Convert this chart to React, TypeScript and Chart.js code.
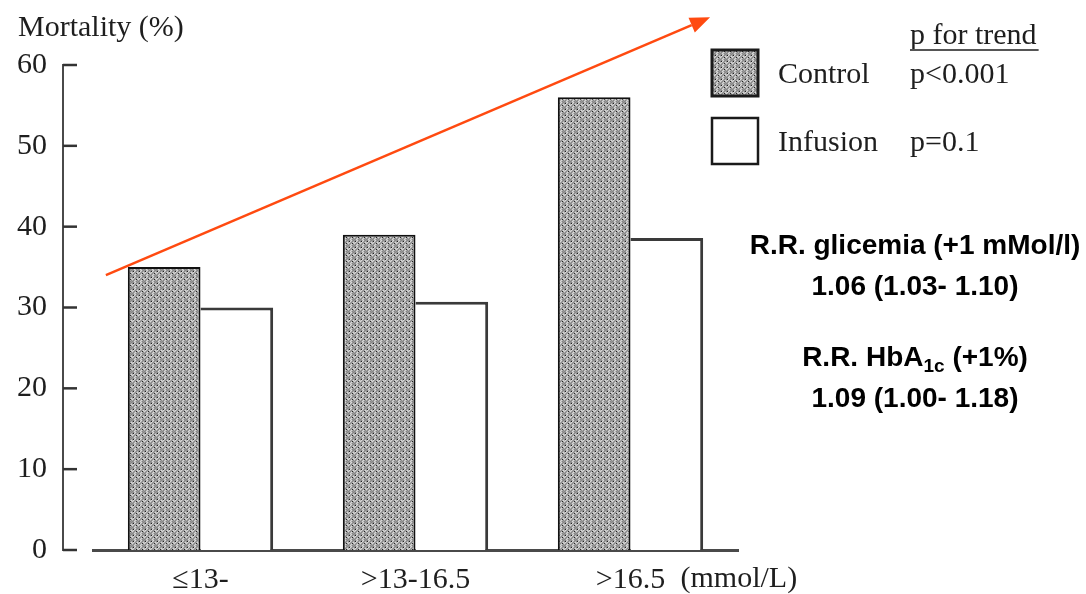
import React, { useEffect, useRef } from "react";
import { Chart, registerables } from "chart.js";

Chart.register(...registerables);

// Glucose strata on admission and mortality by treatment arm
const categories = ["≤13-", ">13-16.5", ">16.5"];
const controlValues = [35, 39, 56];
const infusionValues = [30, 30.7, 38.6];
const yTickValues = [0, 10, 20, 30, 40, 50, 60];
const seriesNames = ["Control", "Infusion"];
const trendValues = ["p<0.001", "p=0.1"];
const trendHeader = "p for trend";
const yTitle = "Mortality (%)";
const xUnit = "(mmol/L)";
const rrGlycemia = ["R.R. glicemia (+1 mMol/l)", "1.06 (1.03- 1.10)"];
const rrHba1c = ["R.R. HbA", "1c", " (+1%)", "1.09 (1.00- 1.18)"];
// trend arrow endpoints in data units: [category index, mortality %]
const arrowFrom = [-0.44, 34];
const arrowTo = [2.37, 65.9];

const SERIF = "'Liberation Serif', 'DejaVu Serif', serif";
const SANS = "'Liberation Sans', Arial, sans-serif";
const INK = "#1e1e1e";

function makeHatch(): CanvasPattern | string {
  const c = document.createElement("canvas");
  c.width = 6;
  c.height = 6;
  const g = c.getContext("2d");
  if (!g) return "#999";
  g.fillStyle = "#868686";
  g.fillRect(0, 0, 6, 6);
  g.strokeStyle = "#d8d8d8";
  g.lineWidth = 1.5;
  for (let k = -6; k <= 12; k += 4) {
    g.beginPath();
    g.moveTo(k, 6);
    g.lineTo(k + 6, 0);
    g.stroke();
  }
  g.fillStyle = "#222";
  g.fillRect(1, 1, 1, 1);
  g.fillRect(4, 3, 1, 1);
  const p = g.createPattern(c, "repeat");
  return p || "#999";
}

export default function App() {
  const ref = useRef<HTMLCanvasElement | null>(null);

  useEffect(() => {
    if (!ref.current) return;
    const hatch = makeHatch();

    const overlay = {
      id: "overlay",
      afterDatasetsDraw(chart: any) {
        const ctx: CanvasRenderingContext2D = chart.ctx;
        const ys = chart.scales.y;
        const xs = chart.scales.x;
        const area = chart.chartArea;
        ctx.save();

        // detached vertical axis with inward ticks
        const axisX = area.left - 30;
        ctx.strokeStyle = "#4a4a4a";
        ctx.lineWidth = 2;
        ctx.beginPath();
        ctx.moveTo(axisX, ys.getPixelForValue(yTickValues[yTickValues.length - 1]) - 1);
        ctx.lineTo(axisX, ys.getPixelForValue(0) + 1);
        ctx.stroke();
        ctx.strokeStyle = "#333";
        ctx.lineWidth = 2.5;
        yTickValues.forEach((v) => {
          const py = ys.getPixelForValue(v);
          ctx.beginPath();
          ctx.moveTo(axisX, py);
          ctx.lineTo(axisX + 14, py);
          ctx.stroke();
        });

        // axis title
        ctx.fillStyle = INK;
        ctx.font = `30px ${SERIF}`;
        ctx.textBaseline = "middle";
        ctx.textAlign = "left";
        ctx.fillText(yTitle, 18, 28);

        // unit after last category label
        const lastX = xs.getPixelForValue(categories.length - 1);
        ctx.fillText(xUnit, lastX + 50, 579);

        // legend
        const bx = 712, bw = 46;
        const rows = [73, 141];
        rows.forEach((cy, i) => {
          ctx.fillStyle = i === 0 ? (hatch as any) : "#fff";
          ctx.fillRect(bx, cy - 23, bw, 46);
          ctx.strokeStyle = "#1a1a1a";
          ctx.lineWidth = i === 0 ? 3 : 2.5;
          ctx.strokeRect(bx, cy - 23, bw, 46);
          ctx.fillStyle = INK;
          ctx.fillText(seriesNames[i], 778, cy + 2);
          ctx.fillText(trendValues[i], 910, cy + 2);
        });
        ctx.fillText(trendHeader, 910, 36);
        const hw = ctx.measureText(trendHeader).width;
        ctx.strokeStyle = "#555";
        ctx.lineWidth = 2;
        ctx.beginPath();
        ctx.moveTo(910, 50);
        ctx.lineTo(910 + hw + 2, 50);
        ctx.stroke();

        // relative risk annotations
        const cx = 915;
        ctx.fillStyle = "#000";
        ctx.textAlign = "center";
        ctx.font = `bold 28px ${SANS}`;
        ctx.fillText(rrGlycemia[0], cx, 246);
        ctx.fillText(rrGlycemia[1], cx, 287);
        ctx.fillText(rrHba1c[3], cx, 399);
        const big = `bold 28px ${SANS}`;
        const small = `bold 19px ${SANS}`;
        ctx.font = big;
        const w1 = ctx.measureText(rrHba1c[0]).width;
        const w3 = ctx.measureText(rrHba1c[2]).width;
        ctx.font = small;
        const w2 = ctx.measureText(rrHba1c[1]).width;
        let sx = cx - (w1 + w2 + w3) / 2;
        ctx.textAlign = "left";
        ctx.font = big;
        ctx.fillText(rrHba1c[0], sx, 358);
        sx += w1;
        ctx.font = small;
        ctx.fillText(rrHba1c[1], sx, 367);
        sx += w2;
        ctx.font = big;
        ctx.fillText(rrHba1c[2], sx, 358);

        // trend arrow
        const x0 = xs.getPixelForValue(arrowFrom[0]);
        const y0 = ys.getPixelForValue(arrowFrom[1]);
        const x1 = xs.getPixelForValue(arrowTo[0]);
        const y1 = ys.getPixelForValue(arrowTo[1]);
        const ang = Math.atan2(y1 - y0, x1 - x0);
        const head = 20;
        const hx = x1 - head * Math.cos(ang);
        const hy = y1 - head * Math.sin(ang);
        ctx.strokeStyle = "#ff4a10";
        ctx.fillStyle = "#ff4a10";
        ctx.lineWidth = 2.5;
        ctx.beginPath();
        ctx.moveTo(x0, y0);
        ctx.lineTo(hx, hy);
        ctx.stroke();
        ctx.beginPath();
        ctx.moveTo(x1, y1);
        ctx.lineTo(hx + 8 * Math.sin(ang), hy - 8 * Math.cos(ang));
        ctx.lineTo(hx - 8 * Math.sin(ang), hy + 8 * Math.cos(ang));
        ctx.closePath();
        ctx.fill();

        ctx.restore();
      },
    };

    const chart = new Chart(ref.current, {
      type: "bar",
      data: {
        labels: categories,
        datasets: [
          {
            label: seriesNames[0],
            data: controlValues,
            backgroundColor: hatch as any,
            borderColor: "#111",
            borderWidth: { left: 2, right: 2, top: 2, bottom: 0 },
            borderSkipped: false,
          },
          {
            label: seriesNames[1],
            data: infusionValues,
            backgroundColor: "#fff",
            borderColor: "#3a3a3a",
            borderWidth: { left: 0, right: 3, top: 3, bottom: 0 },
            borderSkipped: false,
          },
        ],
      },
      options: {
        responsive: false,
        maintainAspectRatio: false,
        animation: false,
        devicePixelRatio: 1,
        layout: { padding: { top: 65, right: 348, left: 0, bottom: 0 } },
        plugins: {
          legend: { display: false },
          tooltip: { enabled: false },
          title: { display: false },
        },
        datasets: {
          bar: { categoryPercentage: 0.676, barPercentage: 1 },
        },
        scales: {
          x: {
            grid: { display: false, drawTicks: false },
            border: { display: true, color: "#4a4a4a", width: 3 },
            ticks: {
              color: INK,
              font: { family: SERIF, size: 30 },
              padding: 12,
              maxRotation: 0,
            },
            afterFit: (s: any) => {
              s.height = 44;
            },
          },
          y: {
            min: 0,
            max: 60,
            grid: { display: false, drawTicks: false },
            border: { display: false },
            ticks: {
              stepSize: 10,
              color: INK,
              font: { family: SERIF, size: 30 },
              padding: 46,
            },
            // fixed gutter; label padding must not push the plot edges
            afterFit: (s: any) => {
              s.width = 93;
              s.paddingTop = 0;
              s.paddingBottom = 0;
            },
          },
        },
      },
      plugins: [overlay],
    });

    return () => chart.destroy();
  }, []);

  return (
    <div style={{ position: "fixed", left: 0, top: 0, width: 1086, height: 594, background: "#fff" }}>
      <canvas ref={ref} width={1086} height={594} style={{ display: "block" }} />
    </div>
  );
}
